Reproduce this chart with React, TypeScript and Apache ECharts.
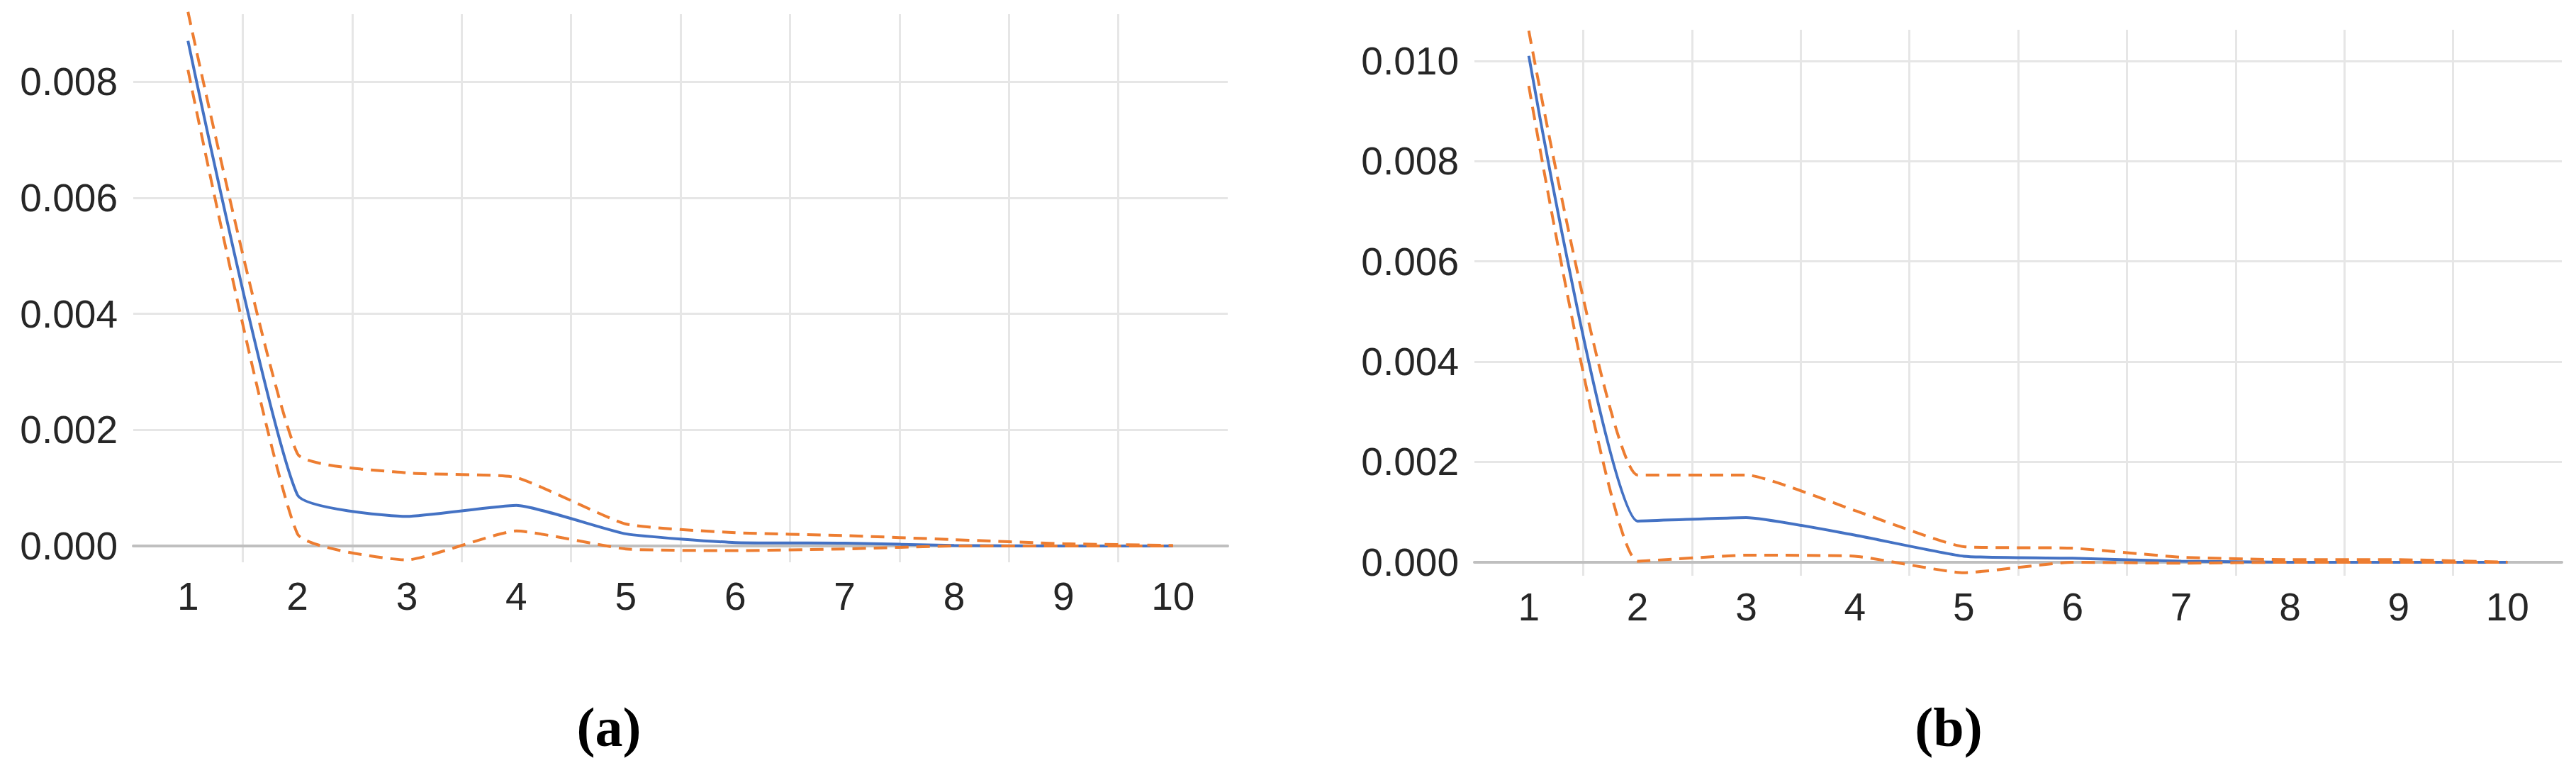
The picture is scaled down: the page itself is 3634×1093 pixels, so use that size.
import React, { useEffect, useRef } from "react";
import * as echarts from "echarts";

const categories = ["1", "2", "3", "4", "5", "6", "7", "8", "9", "10"];

// Panel (a)
const meanA = [0.0087, 0.00088, 0.00051, 0.0007, 0.00021, 0.00006, 0.00005, 0.00001, 0.0, 0.0];
const upperA = [0.0092, 0.00159, 0.00126, 0.00118, 0.00038, 0.00023, 0.00018, 0.00011, 0.00004, 0.00001];
const lowerA = [0.0082, 0.00021, -0.00024, 0.00026, -0.00005, -0.00008, -0.00005, 0.0, 0.0, 0.0];
const ticksA = [0, 0.002, 0.004, 0.006, 0.008];

// Panel (b)
const meanB = [0.0101, 0.00082, 0.00089, 0.00054, 0.00012, 0.00008, 0.00002, 0.0, 0.0, 0.0];
const upperB = [0.0106, 0.00174, 0.00174, 0.00103, 0.00031, 0.00028, 0.0001, 0.00005, 0.00005, 0.0];
const lowerB = [0.0095, 0.00002, 0.00014, 0.00012, -0.00021, 0.0, -0.00002, 0.0, 0.0, 0.0];
const ticksB = [0, 0.002, 0.004, 0.006, 0.008, 0.01];

const panelLabels = ["(a)", "(b)"];

const BLUE = "#4472C4";
const ORANGE = "#ED7D31";
const GRID = "#e6e6e6";
const AXIS = "#bfbfbf";
const TEXT = "#262626";
const FONT = "'Liberation Sans', Arial, sans-serif";

export default function App() {
  const ref = useRef<HTMLDivElement>(null);

  useEffect(() => {
    document.body.style.margin = "0";
    if (!ref.current) return;
    const chart = echarts.init(ref.current, null, { renderer: "svg" });

    const xAxisFor = (gridIndex: number, margin: number) => ({
      type: "category",
      gridIndex,
      data: categories,
      boundaryGap: true,
      axisLine: { show: true, onZero: true, lineStyle: { color: AXIS, width: 4 } },
      axisTick: { show: false },
      axisLabel: {
        interval: 0,
        margin,
        color: TEXT,
        fontSize: 55,
        fontFamily: FONT,
      },
      splitLine: {
        show: true,
        interval: 0,
        showMinLine: false,
        showMaxLine: false,
        lineStyle: { color: GRID, width: 3 },
      },
    });

    const yAxisFor = (gridIndex: number, min: number, max: number, ticks: number[]) => ({
      type: "value",
      gridIndex,
      min,
      max,
      axisLine: { show: false },
      axisTick: { show: false, customValues: ticks },
      axisLabel: {
        customValues: ticks,
        margin: 22,
        color: TEXT,
        fontSize: 55,
        fontFamily: FONT,
        padding: [0, 0, 16, 0],
        formatter: (v: number) => v.toFixed(3),
      },
      splitLine: { show: true, lineStyle: { color: GRID, width: 3 } },
    });

    const lineSeries = (name: string, data: number[], idx: number, dashed: boolean) => ({
      name,
      type: "line",
      xAxisIndex: idx,
      yAxisIndex: idx,
      data,
      smooth: 0.15,
      symbol: "none",
      clip: false,
      lineStyle: dashed
        ? { color: ORANGE, width: 4, type: [19, 11] }
        : { color: BLUE, width: 4, type: "solid" },
    });

    chart.setOption({
      animation: false,
      backgroundColor: "#ffffff",
      grid: [
        { left: 188, top: 20, width: 1544, height: 773, outerBoundsMode: "none", containLabel: false },
        { left: 2080, top: 42, width: 1534, height: 770, outerBoundsMode: "none", containLabel: false },
      ],
      xAxis: [xAxisFor(0, 20), xAxisFor(1, 16)],
      yAxis: [
        yAxisFor(0, -0.00028, 0.00916, ticksA),
        yAxisFor(1, -0.00027, 0.01062, ticksB),
      ],
      series: [
        lineSeries("meanA", meanA, 0, false),
        lineSeries("upperA", upperA, 0, true),
        lineSeries("lowerA", lowerA, 0, true),
        lineSeries("meanB", meanB, 1, false),
        lineSeries("upperB", upperB, 1, true),
        lineSeries("lowerB", lowerB, 1, true),
      ],
      graphic: [
        {
          type: "text",
          x: 859,
          y: 1025,
          style: {
            text: panelLabels[0],
            fill: "#000000",
            font: "bold 78px 'Liberation Serif', 'Times New Roman', serif",
            align: "center",
            verticalAlign: "middle",
            textAlign: "center",
            textVerticalAlign: "middle",
          },
        },
        {
          type: "text",
          x: 2749,
          y: 1025,
          style: {
            text: panelLabels[1],
            fill: "#000000",
            font: "bold 78px 'Liberation Serif', 'Times New Roman', serif",
            align: "center",
            verticalAlign: "middle",
            textAlign: "center",
            textVerticalAlign: "middle",
          },
        },
      ],
    });

    return () => chart.dispose();
  }, []);

  return <div ref={ref} style={{ width: 3634, height: 1093 }} />;
}
